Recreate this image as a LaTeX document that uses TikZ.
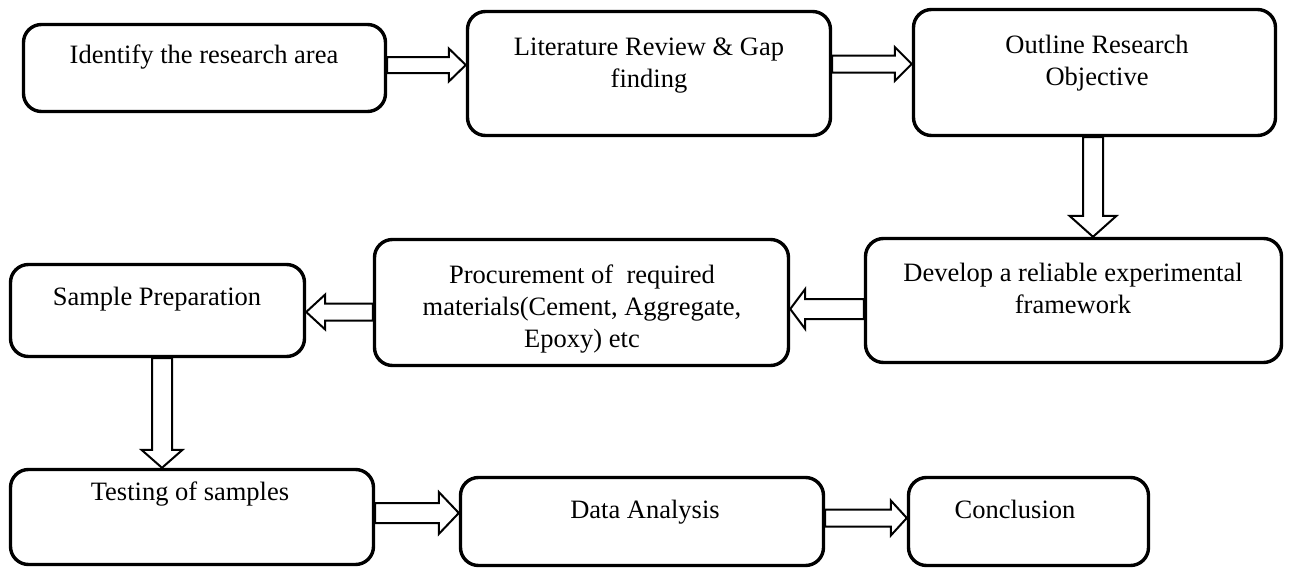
\documentclass[tikz,border=0pt]{standalone}
\usepackage{fontspec}
\setmainfont{Liberation Serif}
\usetikzlibrary{calc}
\tikzset{
  box/.style={draw=black, line width=3.4pt, rounded corners=18pt, inner sep=0pt, fill=none},
  txt/.style={inner sep=0pt, align=center, anchor=base, font=\fontsize{26.5}{32}\selectfont},
  barrow/.style={draw=black, line width=2pt, fill=white, line join=miter}
}
% right arrow: start, tip, shaft half, head half, head length
\newcommand\RArr[5]{\draw[barrow] ($(#1)+(0,-#3)$) -- ($(#2)+(-#5,-#3)$) -- ($(#2)+(-#5,-#4)$) -- (#2) -- ($(#2)+(-#5,#4)$) -- ($(#2)+(-#5,#3)$) -- ($(#1)+(0,#3)$) -- cycle;}
\newcommand\LArr[5]{\draw[barrow] ($(#1)+(0,-#3)$) -- ($(#2)+(#5,-#3)$) -- ($(#2)+(#5,-#4)$) -- (#2) -- ($(#2)+(#5,#4)$) -- ($(#2)+(#5,#3)$) -- ($(#1)+(0,#3)$) -- cycle;}
\newcommand\DArr[5]{\draw[barrow] ($(#1)+(-#3,0)$) -- ($(#2)+(-#3,-#5)$) -- ($(#2)+(-#4,-#5)$) -- (#2) -- ($(#2)+(#4,-#5)$) -- ($(#2)+(#3,-#5)$) -- ($(#1)+(#3,0)$) -- cycle;}
\begin{document}
\begin{tikzpicture}[x=1pt,y=-1pt]
\useasboundingbox (0,0) rectangle (1291,570);
% boxes
\node[box, minimum width=362pt, minimum height=87pt] (b1) at (204.5,68) {};
\node[box, minimum width=363pt, minimum height=124pt] (b2) at (649,73.5) {};
\node[box, minimum width=362pt, minimum height=126pt] (b3) at (1094.5,72.5) {};
\node[box, minimum width=416pt, minimum height=124pt] (b4) at (1073.5,300.5) {};
\node[box, minimum width=414pt, minimum height=126pt] (b5) at (581.5,302.5) {};
\node[box, minimum width=294pt, minimum height=92pt] (b6) at (157.5,310.5) {};
\node[box, minimum width=363pt, minimum height=95pt] (b7) at (192,517) {};
\node[box, minimum width=363pt, minimum height=88pt] (b8) at (642,521.5) {};
\node[box, minimum width=240pt, minimum height=88pt] (b9) at (1028.5,521.5) {};
% texts (base anchor = baseline of the last line)
\node[txt] (t1) at (204,63) {Identify the research area};
\node[txt] (t2) at (649,87) {Literature Review \& Gap\\finding};
\node[txt] (t3) at (1097,85) {Outline Research\\Objective};
\node[txt] (t4) at (1073,313) {Develop a reliable experimental\\framework};
\node[txt] (t5) at (582,347) {Procurement of\ \ required\\materials(Cement, Aggregate,\\Epoxy) etc};
\node[txt] (t6) at (157,305) {Sample Preparation};
\node[txt] (t7) at (190,500) {Testing of samples};
\node[txt] (t8) at (645,518) {Data Analysis};
\node[txt] (t9) at (1015,518) {Conclusion};
% arrow anchor coordinates
\coordinate (a1s) at (b1.east |- 0,65);  \coordinate (a1e) at (b2.west |- 0,65);
\coordinate (a2s) at (b2.east |- 0,64);  \coordinate (a2e) at (b3.west |- 0,64);
\coordinate (a3s) at (b3.south -| 1093,0); \coordinate (a3e) at (b4.north -| 1093,0);
\coordinate (a4s) at (b4.west |- 0,309); \coordinate (a4e) at (b5.east |- 0,309);
\coordinate (a5s) at (b5.west |- 0,312); \coordinate (a5e) at (b6.east |- 0,312);
\coordinate (a6s) at (b6.south -| 162,0); \coordinate (a6e) at (b7.north -| 162,0);
\coordinate (a7s) at (b7.east |- 0,513); \coordinate (a7e) at (b8.west |- 0,513);
\coordinate (a8s) at (b8.east |- 0,518); \coordinate (a8e) at (b9.west |- 0,518);
\RArr{a1s}{a1e}{8}{16.5}{17}
\RArr{a2s}{a2e}{8.5}{17}{17}
\DArr{a3s}{a3e}{10}{23.5}{21}
\LArr{a4s}{a4e}{10}{20}{15}
\LArr{a5s}{a5e}{8.5}{17.5}{19}
\DArr{a6s}{a6e}{10}{20.5}{18}
\RArr{a7s}{a7e}{10}{21}{20}
\RArr{a8s}{a8e}{8.5}{17.5}{16}
\end{tikzpicture}
\end{document}
